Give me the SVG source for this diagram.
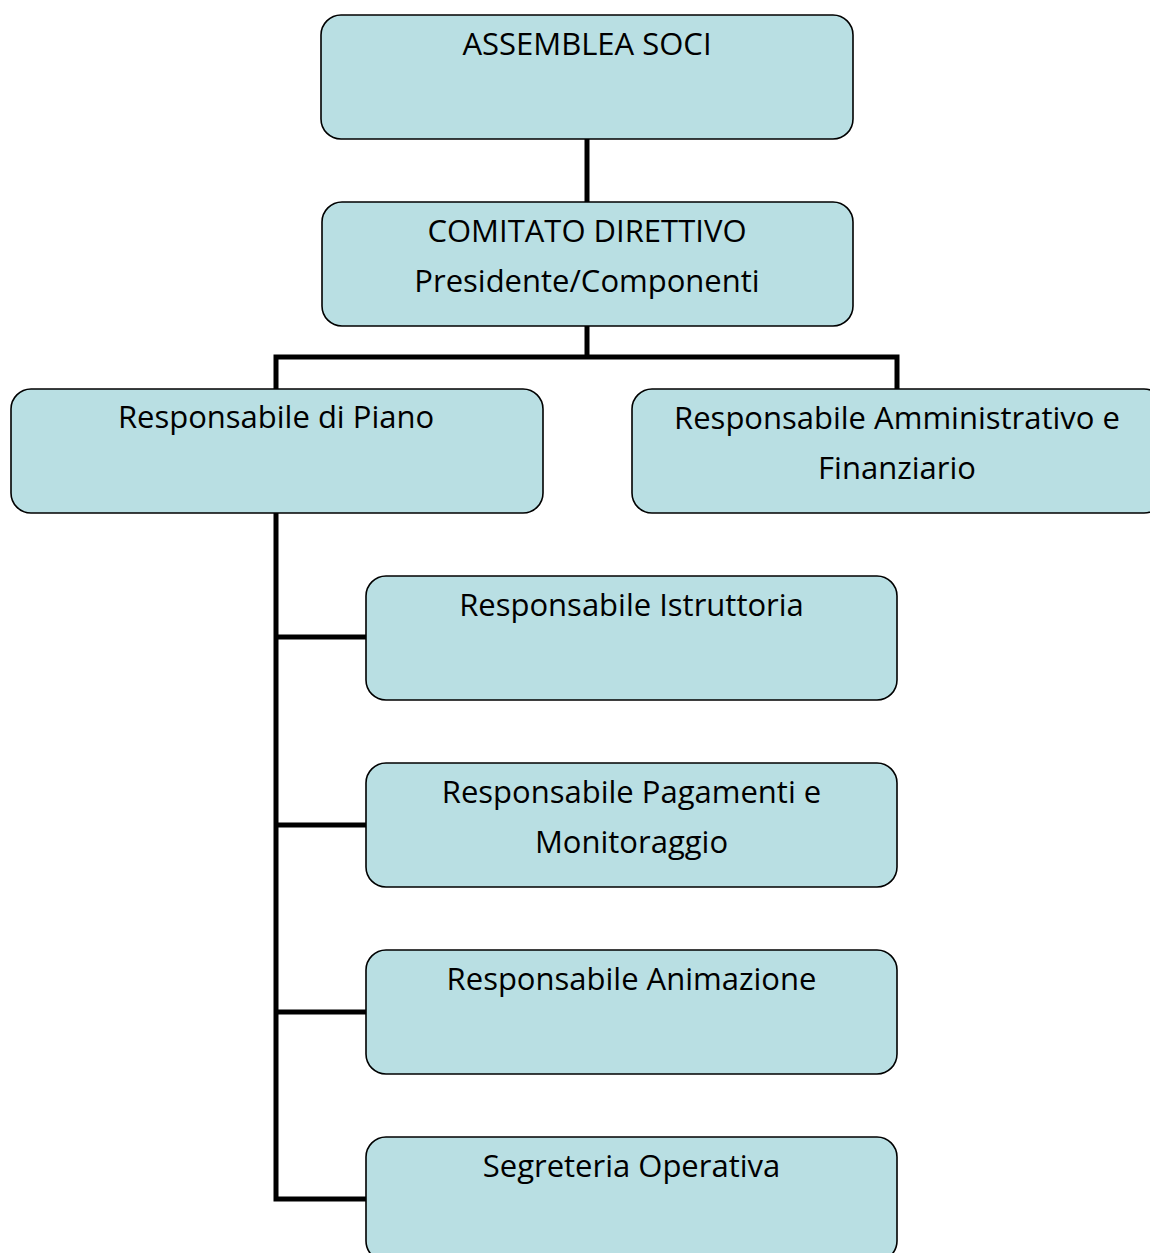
<svg xmlns="http://www.w3.org/2000/svg" width="1150" height="1253" viewBox="0 0 1150 1253">
<style>
.box{fill:#B9DFE3;stroke:#000;stroke-width:1.6}
.t{font-family:"Open Sans","Noto Sans",sans-serif;font-size:31px;fill:#000;text-anchor:middle}
.c{fill:none;stroke:#000;stroke-width:5;stroke-linejoin:miter}
</style>
<rect width="1150" height="1253" fill="#fff"/>
<g id="connectors">
<path class="c" d="M587 139V202"/>
<path class="c" d="M587 326V357M276 389V357H897V389"/>
<path class="c" d="M276 513V1199H366M276 637H366M276 825H366M276 1012H366"/>
</g>
<g id="assemblea"><rect class="box" x="321" y="15" width="532" height="124" rx="20"/><text class="t" x="587" y="55">ASSEMBLEA SOCI</text></g>
<g id="comitato"><rect class="box" x="322" y="202" width="531" height="124" rx="20"/><text class="t" x="587" y="242">COMITATO DIRETTIVO</text><text class="t" x="587" y="292">Presidente/Componenti</text></g>
<g id="piano"><rect class="box" x="11" y="389" width="532" height="124" rx="20"/><text class="t" x="276" y="428">Responsabile di Piano</text></g>
<g id="amministrativo"><rect class="box" x="632" y="389" width="532" height="124" rx="20"/><text class="t" x="897" y="429">Responsabile Amministrativo e</text><text class="t" x="897" y="479">Finanziario</text></g>
<g id="istruttoria"><rect class="box" x="366" y="576" width="531" height="124" rx="20"/><text class="t" x="631.5" y="616">Responsabile Istruttoria</text></g>
<g id="pagamenti"><rect class="box" x="366" y="763" width="531" height="124" rx="20"/><text class="t" x="631.5" y="803">Responsabile Pagamenti e</text><text class="t" x="631.5" y="853">Monitoraggio</text></g>
<g id="animazione"><rect class="box" x="366" y="950" width="531" height="124" rx="20"/><text class="t" x="631.5" y="990">Responsabile Animazione</text></g>
<g id="segreteria"><rect class="box" x="366" y="1137" width="531" height="124" rx="20"/><text class="t" x="631.5" y="1177">Segreteria Operativa</text></g>
</svg>
